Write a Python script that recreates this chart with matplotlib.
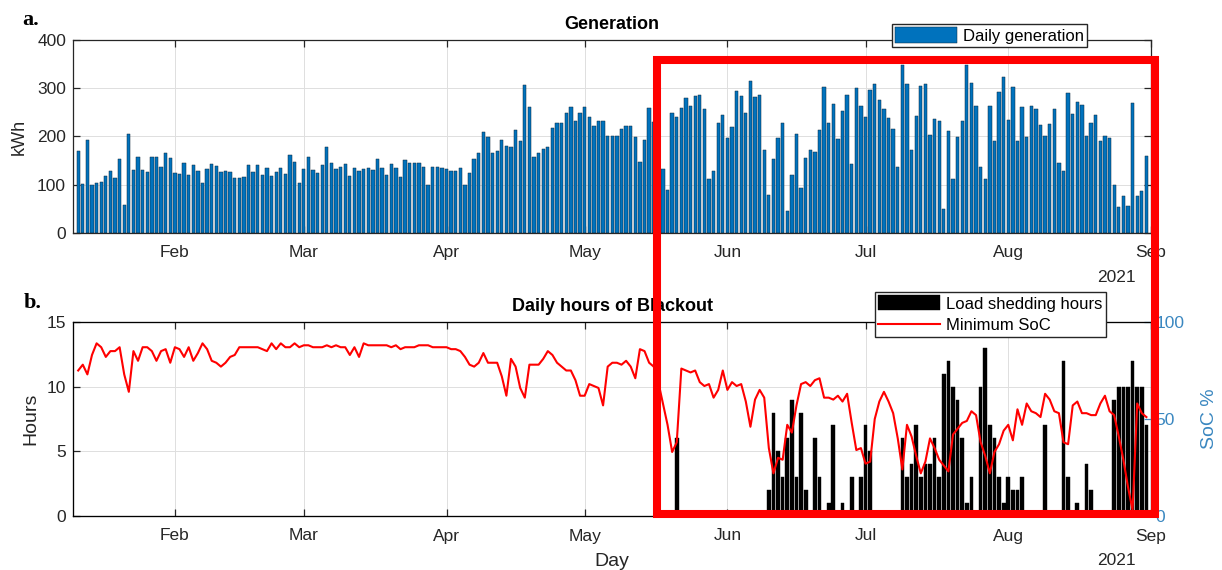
import numpy as np
import pandas as pd
import matplotlib as mpl
mpl.use('Agg')
from matplotlib import pyplot as plt
import matplotlib.dates as mdates
from matplotlib.patches import Rectangle
from matplotlib import transforms

plt.rcParams['font.family'] = ['Liberation Sans', 'DejaVu Sans']

# daily values from 11 Jan to 31 Aug 2021
start_date = '2021-01-11'

gen_kwh = [
    169, 102, 192, 100, 104, 105, 118, 128, 113, 154, 58, 206, 130, 157, 131, 127, 157, 158, 137, 165,
    155, 124, 122, 145, 120, 140, 129, 104, 132, 144, 139, 126, 128, 126, 113, 113, 116, 141, 126, 141,
    120, 135, 119, 127, 134, 122, 161, 148, 104, 133, 158, 131, 124, 141, 178, 146, 133, 137, 144,
    119, 134, 128, 133, 135, 131, 153, 134, 121, 144, 135, 117, 152, 145, 145, 145, 137, 100, 137, 137,
    134, 132, 129, 129, 134, 99, 124, 153, 166, 209, 198, 165, 169, 192, 180, 178, 213, 191, 306, 262,
    157, 166, 174, 178, 218, 229, 227, 248, 261, 232, 249, 261, 241, 222, 233, 233, 200, 200,
    200, 215, 222, 222, 199, 147, 192, 260, 230, 175,
    133, 90, 248, 240, 260, 280, 263, 284, 287, 256, 112, 128, 227, 244, 196, 219, 295, 283, 249, 315,
    281, 285, 172, 78, 153, 197, 229, 46, 120, 206, 93, 155, 171, 167, 213, 302, 227, 267, 195, 253,
    287, 142, 301, 264, 240, 297, 308,
    276, 256, 239, 215, 136, 348, 309, 171, 243, 305, 309, 203, 237, 233, 50, 212, 111, 198, 232, 349,
    311, 263, 136, 111, 264, 191, 293, 323, 234, 303, 191, 262, 198, 263, 258, 224, 200, 225, 258, 145,
    128, 291, 246, 272, 265, 200, 227, 245, 190, 202, 196, 99, 53, 77, 55, 269, 76, 88, 160,
]

soc_pct = [
    75, 78, 73, 83, 89, 87, 82, 85, 85, 87, 73, 64, 85, 80, 87, 87, 85, 80, 85, 86,
    79, 87, 86, 82, 87, 80, 84, 89, 86, 80, 79, 77, 79, 82, 83, 87,
    87, 87, 87, 87, 86, 85, 89, 86, 89, 87, 87, 89, 87, 88,
    88, 87, 87, 87, 88, 87, 88, 87, 87, 83, 87, 82,
    89, 88, 88, 88, 88, 88, 87, 88, 86, 87, 87, 87, 88, 88, 88, 87, 87, 87, 87,
    86, 86, 85, 82, 78, 77, 79, 84, 79, 79, 79,
    72, 62, 81, 77, 66, 61, 78, 78, 78, 81, 85, 83, 79, 77, 75, 75, 70, 62, 62, 68,
    67, 66, 57, 77, 79, 79, 78, 80, 77, 71, 86, 85, 79, 77, 69, 58, 47, 33, 38, 76,
    75, 74, 75, 69, 67, 68, 61, 65, 75, 65, 69, 67, 68, 59, 46, 60, 65, 61, 35, 22,
    30, 29, 47, 43, 57, 68, 69, 67, 70, 71, 61, 61, 60, 62, 59, 63, 48, 34, 35, 27,
    28, 50, 59, 64, 59, 53, 40, 24, 47, 41, 31, 22, 28, 40, 35, 29, 26, 23, 42, 45,
    48, 49, 54, 52, 38, 31, 22, 33, 37, 44, 47, 39, 55, 47, 58, 54, 53, 51, 63, 60,
    54, 53, 38, 37, 57, 59, 53, 53, 52, 52, 58, 62, 54, 52, 41, 29, 15, 3, 58, 53, 51,
]

# days with load shedding (all other days are zero)
shed_dates = [
    '2021-05-21',
    '2021-06-10', '2021-06-11', '2021-06-12', '2021-06-13', '2021-06-14', '2021-06-15', '2021-06-16',
    '2021-06-17', '2021-06-18', '2021-06-20', '2021-06-21', '2021-06-23', '2021-06-24', '2021-06-26',
    '2021-06-28', '2021-06-30', '2021-07-01', '2021-07-02',
    '2021-07-09', '2021-07-10', '2021-07-11', '2021-07-12', '2021-07-13', '2021-07-14', '2021-07-15',
    '2021-07-16', '2021-07-17', '2021-07-18', '2021-07-19', '2021-07-20', '2021-07-21', '2021-07-22',
    '2021-07-23', '2021-07-24', '2021-07-26', '2021-07-27', '2021-07-28', '2021-07-29', '2021-07-30',
    '2021-07-31', '2021-08-01', '2021-08-02', '2021-08-03', '2021-08-04', '2021-08-09', '2021-08-13',
    '2021-08-14', '2021-08-16', '2021-08-18', '2021-08-19', '2021-08-24', '2021-08-25', '2021-08-26',
    '2021-08-27', '2021-08-28', '2021-08-29', '2021-08-30', '2021-08-31',
]
shed_hours = [
    6,
    2, 8, 5, 3, 6, 9, 3,
    8, 2, 6, 3, 1, 7, 1,
    3, 3, 7, 5,
    6, 3, 4, 7, 3, 4, 4,
    6, 3, 11, 12, 10, 9, 6,
    1, 3, 10, 13, 7, 6, 3,
    1, 3, 2, 2, 3, 7, 12,
    3, 1, 4, 2, 9, 10, 10,
    10, 12, 10, 10, 7,
]

highlight_start = '2021-05-16 19:00'
highlight_end = '2021-09-01 22:00'

blue = '#0072BD'
soc_blue = '#3A87C0'
dark = '#262626'
grid_col = '#dedede'

dates = pd.date_range(start_date, periods=len(gen_kwh), freq='D')
shed_x = pd.to_datetime(shed_dates)
xlim = (pd.Timestamp('2021-01-09 21:00'), pd.Timestamp('2021-09-01'))

W, H = 1222, 570
fig = plt.figure(figsize=(W / 100, H / 100), dpi=100)
ax1 = fig.add_axes([73 / W, 1 - 233 / H, 1078 / W, 193 / H])
ax2 = fig.add_axes([73 / W, 1 - 516 / H, 1078 / W, 194 / H])


def style_axes(ax):
    ax.set_xlim(*xlim)
    ax.xaxis.set_major_locator(mdates.MonthLocator())
    ax.xaxis.set_major_formatter(mdates.DateFormatter('%b'))
    ax.grid(True, color=grid_col, linewidth=0.7)
    ax.set_axisbelow(True)
    for sp in ax.spines.values():
        sp.set_color(dark)
        sp.set_linewidth(0.9)
    ax.tick_params(axis='x', direction='in', top=True, length=5, width=0.9,
                   colors=dark, labelsize=12.5, pad=9)
    ax.tick_params(axis='y', direction='in', length=5, width=0.9,
                   colors=dark, labelsize=12.5, pad=5)


# a. generation
ax1.bar(dates, gen_kwh, width=0.72, color=blue, edgecolor='#10283c',
        linewidth=0.35, label='Daily generation')
style_axes(ax1)
ax1.tick_params(axis='y', right=True)
ax1.set_ylim(0, 400)
ax1.set_yticks([0, 100, 200, 300, 400])
ax1.set_ylabel('kWh', fontsize=13, color=dark)
ax1.yaxis.set_label_coords(-0.042, 0.5)
ax1.set_title('Generation', fontsize=13, fontweight='bold', pad=8)
ax1.text(0.968, -0.228, '2021', transform=ax1.transAxes, ha='center', va='center',
         fontsize=12.5, color=dark)
ax1.legend(loc='upper left', bbox_to_anchor=(892 / W, 1 - 24 / H), bbox_transform=fig.transFigure,
           borderaxespad=0, fontsize=12, handlelength=3.7, handleheight=1.1,
           handletextpad=0.35, borderpad=0.2, fancybox=False, edgecolor=dark,
           framealpha=1)

# b. blackout hours + minimum SoC
ax2.bar(shed_x, shed_hours, width=0.8, color='black', edgecolor='black',
        linewidth=0.3, label='Load shedding hours')
style_axes(ax2)
ax2.set_ylim(0, 15)
ax2.set_yticks([0, 5, 10, 15])
ax2.set_ylabel('Hours', fontsize=14, color=dark)
ax2.yaxis.set_label_coords(-0.031, 0.5)
ax2.set_xlabel('Day', fontsize=14, color=dark)
ax2.xaxis.set_label_coords(0.5, -0.19)
ax2.set_title('Daily hours of Blackout', fontsize=13, fontweight='bold', pad=8)
ax2.text(0.968, -0.227, '2021', transform=ax2.transAxes, ha='center', va='center',
         fontsize=12.5, color=dark)

ax2r = ax2.twinx()
ax2r.plot(dates, soc_pct, color='#ff0000', linewidth=1.5, label='Minimum SoC')
ax2r.set_xlim(*xlim)
ax2r.set_ylim(0, 100)
ax2r.set_yticks([0, 50, 100])
ax2r.tick_params(axis='y', direction='in', length=5, width=0.9, colors=soc_blue,
                 labelsize=12.5, pad=3)
ax2r.spines['right'].set_color(soc_blue)
ax2r.set_ylabel('SoC %', fontsize=14, color=soc_blue)
ax2r.yaxis.set_label_coords(1.046, 0.5)

h1, l1 = ax2.get_legend_handles_labels()
h2, l2 = ax2r.get_legend_handles_labels()
ax2r.legend(h1 + h2, l1 + l2, loc='upper left', bbox_to_anchor=(875 / W, 1 - 292 / H),
            bbox_transform=fig.transFigure, borderaxespad=0, fontsize=12,
            handlelength=3.7, handleheight=1.0, handletextpad=0.35, borderpad=0.2,
            labelspacing=0.35, fancybox=False, edgecolor=dark, framealpha=1)

# panel letters
fig.text(22 / W, 1 - 25 / H, 'a.', fontsize=16, fontweight='bold',
         family='Liberation Serif', va='baseline')
fig.text(24 / W, 1 - 308 / H, 'b.', fontsize=16, fontweight='bold',
         family='Liberation Serif', va='baseline')

# red highlight box spanning both panels
tr = transforms.blended_transform_factory(ax1.transData, fig.transFigure)
x0 = mdates.date2num(pd.Timestamp(highlight_start))
x1 = mdates.date2num(pd.Timestamp(highlight_end))
box = Rectangle((x0, 1 - 514 / H), x1 - x0, (514 - 60) / H, transform=tr,
                fill=False, edgecolor='#ff0000', linewidth=5.8, joinstyle='miter',
                zorder=20, clip_on=False)
fig.add_artist(box)

fig.savefig('out.png', dpi=100)
